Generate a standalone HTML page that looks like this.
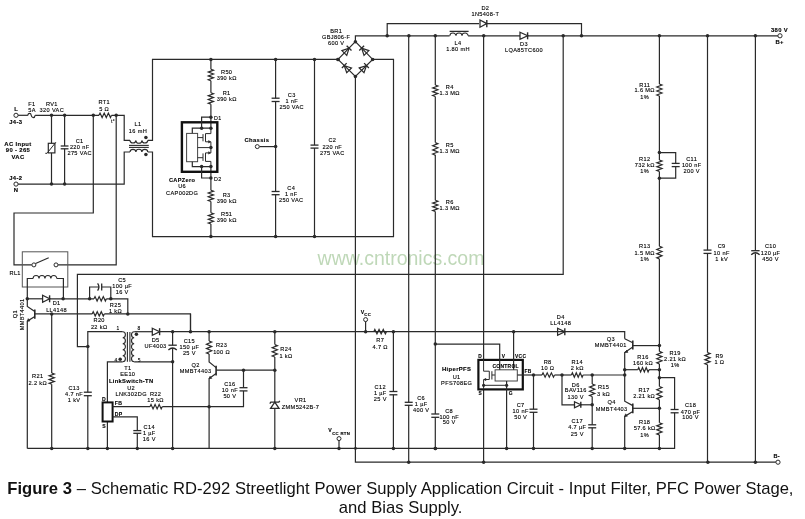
<!DOCTYPE html>
<html><head><meta charset="utf-8"><style>
html,body{margin:0;padding:0;background:#fff;width:805px;height:519px;overflow:hidden}
svg{display:block}
text{font-family:"Liberation Sans",sans-serif;fill:#000;stroke:#000;stroke-width:0.12px}
svg{will-change:transform}
</style></head><body>
<svg width="805" height="519" viewBox="0 0 805 519">
<rect width="805" height="519" fill="#fff"/>
<text x="401" y="265.2" font-size="19.5" text-anchor="middle" style="fill:#bfd8b8;stroke:none">www.cntronics.com</text>
<circle cx="16" cy="115.3" r="2.1" fill="#fff" stroke="#2a2a2a" stroke-width="1"/>
<circle cx="16" cy="184.1" r="2.1" fill="#fff" stroke="#2a2a2a" stroke-width="1"/>
<polyline points="18.1,115.3 27.9,115.3" fill="none" stroke="#2a2a2a" stroke-width="1.2"/>
<path d="M27.8,115.3 C28.2,112.7 30.9,112.7 31.2,115.3 C31.6,118.3 34.7,118.3 35.1,115.3" fill="none" stroke="#2a2a2a" stroke-width="1.2"/>
<polyline points="35.1,115.3 99,115.3" fill="none" stroke="#2a2a2a" stroke-width="1.2"/>
<polyline points="99,115.3 100.04,113.1 102.12,117.5 104.21,113.1 106.29,117.5 108.38,113.1 110.46,117.5 111.5,115.3" fill="none" stroke="#2a2a2a" stroke-width="1.2"/>
<polyline points="111.5,115.3 124.2,115.3 124.2,140.4 130,140.4" fill="none" stroke="#2a2a2a" stroke-width="1.2"/>
<path d="M130,140.4 A2.97,2.8 0 0 0 135.93,140.4 A2.97,2.8 0 0 0 141.87,140.4 A2.97,2.8 0 0 0 147.8,140.4" fill="none" stroke="#2a2a2a" stroke-width="1.1"/>
<polyline points="147.8,140.4 152.5,140.4 152.5,59.4 337.6,59.4" fill="none" stroke="#2a2a2a" stroke-width="1.2"/>
<polyline points="129,145.4 148.8,145.4" fill="none" stroke="#2a2a2a" stroke-width="1.1"/>
<polyline points="129,147.4 148.8,147.4" fill="none" stroke="#2a2a2a" stroke-width="1.1"/>
<polyline points="18.1,184.1 124.2,184.1 124.2,152 130,152" fill="none" stroke="#2a2a2a" stroke-width="1.2"/>
<path d="M130,152 A2.97,2.8 0 0 1 135.93,152 A2.97,2.8 0 0 1 141.87,152 A2.97,2.8 0 0 1 147.8,152" fill="none" stroke="#2a2a2a" stroke-width="1.1"/>
<polyline points="147.8,152 152.5,152 152.5,236.6 393.5,236.6 393.5,59.4 372.7,59.4" fill="none" stroke="#2a2a2a" stroke-width="1.2"/>
<circle cx="145.9" cy="137.6" r="1.75" fill="#2a2a2a"/>
<circle cx="145.9" cy="154.5" r="1.75" fill="#2a2a2a"/>
<circle cx="51.5" cy="115.3" r="1.75" fill="#2a2a2a"/>
<circle cx="51.5" cy="184.1" r="1.75" fill="#2a2a2a"/>
<circle cx="64.6" cy="115.3" r="1.75" fill="#2a2a2a"/>
<circle cx="64.6" cy="184.1" r="1.75" fill="#2a2a2a"/>
<circle cx="93.3" cy="115.3" r="1.75" fill="#2a2a2a"/>
<circle cx="116.2" cy="115.3" r="1.75" fill="#2a2a2a"/>
<polyline points="51.5,115.3 51.5,184.1" fill="none" stroke="#2a2a2a" stroke-width="1.2"/>
<rect x="48.3" y="143.3" width="6.6" height="9.6" fill="#fff" stroke="#2a2a2a" stroke-width="1.2"/>
<polyline points="45.3,153.3 47,153.3 55.9,142.2" fill="none" stroke="#2a2a2a" stroke-width="1.0"/>
<polyline points="64.6,115.3 64.6,146" fill="none" stroke="#2a2a2a" stroke-width="1.2"/>
<polyline points="64.6,148.8 64.6,184.1" fill="none" stroke="#2a2a2a" stroke-width="1.2"/>
<polyline points="60.7,146 68.5,146" fill="none" stroke="#2a2a2a" stroke-width="1.3"/>
<polyline points="60.7,148.8 68.5,148.8" fill="none" stroke="#2a2a2a" stroke-width="1.3"/>
<text x="112.95" y="122.99" font-size="4.9" letter-spacing="0.3" text-anchor="middle">t°</text>
<polyline points="93.3,115.3 93.3,213 14,213 14,264.9 31.8,264.9" fill="none" stroke="#2a2a2a" stroke-width="1.2"/>
<polyline points="116.2,115.3 116.2,264.9 58.1,264.9" fill="none" stroke="#2a2a2a" stroke-width="1.2"/>
<circle cx="33.9" cy="264.9" r="2.0" fill="#fff" stroke="#2a2a2a" stroke-width="1"/>
<circle cx="56" cy="264.9" r="2.0" fill="#fff" stroke="#2a2a2a" stroke-width="1"/>
<polyline points="35.6,263.6 48.7,257.8" fill="none" stroke="#2a2a2a" stroke-width="1.1"/>
<rect x="22.3" y="251.8" width="45.5" height="35.2" fill="none" stroke="#555" stroke-width="1.0"/>
<path d="M33.1,278.5 A2.96,3 0 0 1 39.02,278.5 A2.96,3 0 0 1 44.95,278.5 A2.96,3 0 0 1 50.88,278.5 A2.96,3 0 0 1 56.8,278.5" fill="none" stroke="#2a2a2a" stroke-width="1.1"/>
<polyline points="27.3,298.8 27.3,278.5 33.1,278.5" fill="none" stroke="#2a2a2a" stroke-width="1.2"/>
<polyline points="56.8,278.5 63.4,278.5 63.4,298.8" fill="none" stroke="#2a2a2a" stroke-width="1.2"/>
<text x="31.97" y="105.75" font-size="5.61" letter-spacing="0.35" text-anchor="middle">F1</text>
<text x="31.97" y="111.65" font-size="5.61" letter-spacing="0.35" text-anchor="middle">5A</text>
<text x="51.87" y="105.65" font-size="5.61" letter-spacing="0.35" text-anchor="middle">RV1</text>
<text x="51.87" y="111.65" font-size="5.61" letter-spacing="0.35" text-anchor="middle">320 VAC</text>
<text x="104.17" y="104.25" font-size="5.61" letter-spacing="0.35" text-anchor="middle">RT1</text>
<text x="104.17" y="110.85" font-size="5.61" letter-spacing="0.35" text-anchor="middle">5 Ω</text>
<text x="79.67" y="143.25" font-size="5.61" letter-spacing="0.35" text-anchor="middle">C1</text>
<text x="79.67" y="149.25" font-size="5.61" letter-spacing="0.35" text-anchor="middle">220 nF</text>
<text x="79.67" y="155.25" font-size="5.61" letter-spacing="0.35" text-anchor="middle">275 VAC</text>
<text x="137.97" y="126.05" font-size="5.61" letter-spacing="0.35" text-anchor="middle">L1</text>
<text x="137.97" y="133.35" font-size="5.61" letter-spacing="0.35" text-anchor="middle">16 mH</text>
<text x="16.17" y="111.45" font-size="5.89" letter-spacing="0.35" font-weight="bold" text-anchor="middle">L</text>
<text x="15.77" y="123.95" font-size="5.89" letter-spacing="0.35" font-weight="bold" text-anchor="middle">J4-3</text>
<text x="15.77" y="179.95" font-size="5.89" letter-spacing="0.35" font-weight="bold" text-anchor="middle">J4-2</text>
<text x="16.17" y="192.15" font-size="5.89" letter-spacing="0.35" font-weight="bold" text-anchor="middle">N</text>
<text x="17.97" y="145.55" font-size="5.89" letter-spacing="0.35" font-weight="bold" text-anchor="middle">AC Input</text>
<text x="17.97" y="152.45" font-size="5.89" letter-spacing="0.35" font-weight="bold" text-anchor="middle">90 - 265</text>
<text x="17.97" y="159.05" font-size="5.89" letter-spacing="0.35" font-weight="bold" text-anchor="middle">VAC</text>
<text x="15.17" y="274.85" font-size="5.61" letter-spacing="0.35" text-anchor="middle">RL1</text>
<circle cx="210.9" cy="59.4" r="1.75" fill="#2a2a2a"/>
<circle cx="210.9" cy="236.6" r="1.75" fill="#2a2a2a"/>
<circle cx="275.6" cy="59.4" r="1.75" fill="#2a2a2a"/>
<circle cx="275.6" cy="236.6" r="1.75" fill="#2a2a2a"/>
<circle cx="314.5" cy="59.4" r="1.75" fill="#2a2a2a"/>
<circle cx="314.5" cy="236.6" r="1.75" fill="#2a2a2a"/>
<circle cx="338" cy="59.4" r="1.75" fill="#2a2a2a"/>
<polyline points="210.9,59.4 210.9,69.2" fill="none" stroke="#2a2a2a" stroke-width="1.2"/>
<polyline points="210.9,69.2 213.5,70.16 208.3,72.08 213.5,73.99 208.3,75.91 213.5,77.83 208.3,79.74 210.9,80.7" fill="none" stroke="#2a2a2a" stroke-width="1.2"/>
<polyline points="210.9,80.7 210.9,92.8" fill="none" stroke="#2a2a2a" stroke-width="1.2"/>
<polyline points="210.9,92.8 213.5,93.76 208.3,95.67 213.5,97.59 208.3,99.51 213.5,101.42 208.3,103.34 210.9,104.3" fill="none" stroke="#2a2a2a" stroke-width="1.2"/>
<polyline points="210.9,104.3 210.9,128.2" fill="none" stroke="#2a2a2a" stroke-width="1.2"/>
<polyline points="210.9,166.6 210.9,190.2" fill="none" stroke="#2a2a2a" stroke-width="1.2"/>
<polyline points="210.9,190.2 213.5,191.14 208.3,193.02 213.5,194.91 208.3,196.79 213.5,198.68 208.3,200.56 210.9,201.5" fill="none" stroke="#2a2a2a" stroke-width="1.2"/>
<polyline points="210.9,201.5 210.9,212.8" fill="none" stroke="#2a2a2a" stroke-width="1.2"/>
<polyline points="210.9,212.8 213.5,213.73 208.3,215.6 213.5,217.47 208.3,219.33 213.5,221.2 208.3,223.07 210.9,224" fill="none" stroke="#2a2a2a" stroke-width="1.2"/>
<polyline points="210.9,224 210.9,236.6" fill="none" stroke="#2a2a2a" stroke-width="1.2"/>
<rect x="181.9" y="122.3" width="35.4" height="49.5" fill="none" stroke="#111" stroke-width="2.4"/>
<polyline points="210.9,117.2 201.6,117.2 201.6,128.2" fill="none" stroke="#2a2a2a" stroke-width="1.2"/>
<polyline points="192.3,133.4 192.3,128.2 210.9,128.2" fill="none" stroke="#2a2a2a" stroke-width="1.2"/>
<circle cx="210.9" cy="117.2" r="1.75" fill="#2a2a2a"/>
<circle cx="201.6" cy="128.2" r="1.75" fill="#2a2a2a"/>
<circle cx="210.9" cy="128.2" r="1.75" fill="#2a2a2a"/>
<rect x="186.6" y="133.4" width="11" height="28.3" fill="none" stroke="#444" stroke-width="1.0"/>
<polyline points="192.3,161.7 192.3,166.6 210.9,166.6" fill="none" stroke="#2a2a2a" stroke-width="1.2"/>
<polyline points="201.6,166.6 201.6,178 210.9,178" fill="none" stroke="#2a2a2a" stroke-width="1.2"/>
<circle cx="201.6" cy="166.6" r="1.75" fill="#2a2a2a"/>
<circle cx="210.9" cy="166.6" r="1.75" fill="#2a2a2a"/>
<circle cx="210.9" cy="178" r="1.75" fill="#2a2a2a"/>
<polyline points="197.6,137.6 203,137.6" fill="none" stroke="#2a2a2a" stroke-width="1.0"/>
<polyline points="203,134.1 203,141.3" fill="none" stroke="#2a2a2a" stroke-width="1.0"/>
<polyline points="205.5,133.6 205.5,141.8" fill="none" stroke="#2a2a2a" stroke-width="1.0"/>
<polyline points="205.5,133.6 210.9,133.6" fill="none" stroke="#2a2a2a" stroke-width="1.0"/>
<polyline points="205.5,141.8 210.9,141.8" fill="none" stroke="#2a2a2a" stroke-width="1.0"/>
<polyline points="197.6,157.7 203,157.7" fill="none" stroke="#2a2a2a" stroke-width="1.0"/>
<polyline points="203,153.4 203,160.9" fill="none" stroke="#2a2a2a" stroke-width="1.0"/>
<polyline points="205.5,152.9 205.5,161.4" fill="none" stroke="#2a2a2a" stroke-width="1.0"/>
<polyline points="205.5,152.9 210.9,152.9" fill="none" stroke="#2a2a2a" stroke-width="1.0"/>
<polyline points="205.5,161.4 210.9,161.4" fill="none" stroke="#2a2a2a" stroke-width="1.0"/>
<polyline points="210.9,128.2 210.9,133.6" fill="none" stroke="#2a2a2a" stroke-width="1.0"/>
<polyline points="210.9,141.8 210.9,152.9" fill="none" stroke="#2a2a2a" stroke-width="1.0"/>
<polyline points="210.9,161.4 210.9,166.6" fill="none" stroke="#2a2a2a" stroke-width="1.0"/>
<polyline points="197.6,147.6 210.9,147.6" fill="none" stroke="#2a2a2a" stroke-width="1.0"/>
<circle cx="210.9" cy="147.6" r="1.75" fill="#2a2a2a"/>
<path d="M208.6,140.6 L210.4,141.8 L208.6,143.0 Z" fill="#2a2a2a" stroke="#2a2a2a" stroke-width="0.6"/>
<path d="M208.6,151.7 L210.4,152.9 L208.6,154.1 Z" fill="#2a2a2a" stroke="#2a2a2a" stroke-width="0.6"/>
<text x="214" y="120.15" font-size="5.34" letter-spacing="0.33" text-anchor="start">D1</text>
<text x="214" y="180.55" font-size="5.34" letter-spacing="0.33" text-anchor="start">D2</text>
<text font-weight="bold" x="182.17" y="181.65" font-size="5.61" letter-spacing="0.35" text-anchor="middle">CAPZero</text>
<text x="182.17" y="188.45" font-size="5.61" letter-spacing="0.35" text-anchor="middle">U6</text>
<text x="182.17" y="194.55" font-size="5.61" letter-spacing="0.35" text-anchor="middle">CAP002DG</text>
<text x="226.67" y="73.75" font-size="5.61" letter-spacing="0.35" text-anchor="middle">R50</text>
<text x="226.67" y="80.25" font-size="5.61" letter-spacing="0.35" text-anchor="middle">390 kΩ</text>
<text x="226.67" y="94.75" font-size="5.61" letter-spacing="0.35" text-anchor="middle">R1</text>
<text x="226.67" y="101.05" font-size="5.61" letter-spacing="0.35" text-anchor="middle">390 kΩ</text>
<text x="226.67" y="196.75" font-size="5.61" letter-spacing="0.35" text-anchor="middle">R3</text>
<text x="226.67" y="202.95" font-size="5.61" letter-spacing="0.35" text-anchor="middle">390 kΩ</text>
<text x="226.67" y="216.05" font-size="5.61" letter-spacing="0.35" text-anchor="middle">R51</text>
<text x="226.67" y="222.35" font-size="5.61" letter-spacing="0.35" text-anchor="middle">390 kΩ</text>
<polyline points="275.6,59.4 275.6,98.2" fill="none" stroke="#2a2a2a" stroke-width="1.2"/>
<polyline points="271.6,98.2 279.6,98.2" fill="none" stroke="#2a2a2a" stroke-width="1.3"/>
<polyline points="271.6,101.5 279.6,101.5" fill="none" stroke="#2a2a2a" stroke-width="1.3"/>
<polyline points="275.6,101.5 275.6,191.5" fill="none" stroke="#2a2a2a" stroke-width="1.2"/>
<polyline points="271.6,191.5 279.6,191.5" fill="none" stroke="#2a2a2a" stroke-width="1.3"/>
<polyline points="271.6,194.7 279.6,194.7" fill="none" stroke="#2a2a2a" stroke-width="1.3"/>
<polyline points="275.6,194.7 275.6,236.6" fill="none" stroke="#2a2a2a" stroke-width="1.2"/>
<circle cx="275.6" cy="146.6" r="1.75" fill="#2a2a2a"/>
<polyline points="259.4,146.6 275.6,146.6" fill="none" stroke="#2a2a2a" stroke-width="1.2"/>
<circle cx="257.3" cy="146.6" r="2.0" fill="#fff" stroke="#2a2a2a" stroke-width="1"/>
<text x="256.97" y="142.35" font-size="5.89" letter-spacing="0.35" font-weight="bold" text-anchor="middle">Chassis</text>
<text x="291.77" y="96.55" font-size="5.61" letter-spacing="0.35" text-anchor="middle">C3</text>
<text x="291.77" y="102.65" font-size="5.61" letter-spacing="0.35" text-anchor="middle">1 nF</text>
<text x="291.77" y="108.65" font-size="5.61" letter-spacing="0.35" text-anchor="middle">250 VAC</text>
<text x="291.27" y="189.75" font-size="5.61" letter-spacing="0.35" text-anchor="middle">C4</text>
<text x="291.27" y="196.05" font-size="5.61" letter-spacing="0.35" text-anchor="middle">1 nF</text>
<text x="291.27" y="202.35" font-size="5.61" letter-spacing="0.35" text-anchor="middle">250 VAC</text>
<polyline points="314.5,59.4 314.5,145.1" fill="none" stroke="#2a2a2a" stroke-width="1.2"/>
<polyline points="310.5,145.1 318.5,145.1" fill="none" stroke="#2a2a2a" stroke-width="1.3"/>
<polyline points="310.5,148.1 318.5,148.1" fill="none" stroke="#2a2a2a" stroke-width="1.3"/>
<polyline points="314.5,148.1 314.5,236.6" fill="none" stroke="#2a2a2a" stroke-width="1.2"/>
<text x="332.37" y="142.15" font-size="5.61" letter-spacing="0.35" text-anchor="middle">C2</text>
<text x="332.37" y="148.95" font-size="5.61" letter-spacing="0.35" text-anchor="middle">220 nF</text>
<text x="332.37" y="155.15" font-size="5.61" letter-spacing="0.35" text-anchor="middle">275 VAC</text>
<polyline points="338,59.4 355.4,41.7 372.7,59.4 355.4,76.5 338,59.4" fill="none" stroke="#2a2a2a" stroke-width="1.2"/>
<circle cx="338" cy="59.4" r="1.75" fill="#2a2a2a"/>
<circle cx="355.4" cy="41.7" r="1.75" fill="#2a2a2a"/>
<circle cx="372.7" cy="59.4" r="1.75" fill="#2a2a2a"/>
<circle cx="355.4" cy="76.5" r="1.75" fill="#2a2a2a"/>
<g transform="translate(346.7,50.55) rotate(-45.6)"><path d="M-3.4,-3.4 L3.4,0 L-3.4,3.4 Z" fill="none" stroke="#2a2a2a" stroke-width="1.2"/><line x1="3.4" y1="-3.4" x2="3.4" y2="3.4" stroke="#2a2a2a" stroke-width="1.3"/></g>
<g transform="translate(364.05,50.55) rotate(-134.4)"><path d="M-3.4,-3.4 L3.4,0 L-3.4,3.4 Z" fill="none" stroke="#2a2a2a" stroke-width="1.2"/><line x1="3.4" y1="-3.4" x2="3.4" y2="3.4" stroke="#2a2a2a" stroke-width="1.3"/></g>
<g transform="translate(346.7,67.95) rotate(-135.6)"><path d="M-3.4,-3.4 L3.4,0 L-3.4,3.4 Z" fill="none" stroke="#2a2a2a" stroke-width="1.2"/><line x1="3.4" y1="-3.4" x2="3.4" y2="3.4" stroke="#2a2a2a" stroke-width="1.3"/></g>
<g transform="translate(364.05,67.95) rotate(-44.4)"><path d="M-3.4,-3.4 L3.4,0 L-3.4,3.4 Z" fill="none" stroke="#2a2a2a" stroke-width="1.2"/><line x1="3.4" y1="-3.4" x2="3.4" y2="3.4" stroke="#2a2a2a" stroke-width="1.3"/></g>
<text x="336.17" y="33.15" font-size="5.61" letter-spacing="0.35" text-anchor="middle">BR1</text>
<text x="336.17" y="39.15" font-size="5.61" letter-spacing="0.35" text-anchor="middle">GBJ806-F</text>
<text x="336.17" y="45.15" font-size="5.61" letter-spacing="0.35" text-anchor="middle">600 V</text>
<polyline points="355.4,41.7 355.4,35.8 449.6,35.8" fill="none" stroke="#2a2a2a" stroke-width="1.2"/>
<path d="M449.9,35.8 A3.03,2.8 0 0 1 455.97,35.8 A3.03,2.8 0 0 1 462.03,35.8 A3.03,2.8 0 0 1 468.1,35.8" fill="none" stroke="#2a2a2a" stroke-width="1.1"/>
<polyline points="449.6,31.4 468.6,31.4" fill="none" stroke="#2a2a2a" stroke-width="1.3"/>
<polyline points="468.1,35.8 520,35.8" fill="none" stroke="#2a2a2a" stroke-width="1.2"/>
<path d="M520,32.3 L527.6,35.8 L520,39.3 Z" fill="none" stroke="#2a2a2a" stroke-width="1.25"/>
<polyline points="527.6,32.3 527.6,39.3" fill="none" stroke="#2a2a2a" stroke-width="1.4"/>
<polyline points="527.6,35.8 778,35.8" fill="none" stroke="#2a2a2a" stroke-width="1.2"/>
<circle cx="780" cy="35.8" r="2.1" fill="#fff" stroke="#2a2a2a" stroke-width="1"/>
<text x="779.57" y="31.85" font-size="5.89" letter-spacing="0.35" font-weight="bold" text-anchor="middle">380 V</text>
<text x="779.57" y="43.75" font-size="5.89" letter-spacing="0.35" font-weight="bold" text-anchor="middle">B+</text>
<circle cx="387.2" cy="35.8" r="1.75" fill="#2a2a2a"/>
<circle cx="408.9" cy="35.8" r="1.75" fill="#2a2a2a"/>
<circle cx="435.3" cy="35.8" r="1.75" fill="#2a2a2a"/>
<circle cx="483.7" cy="35.8" r="1.75" fill="#2a2a2a"/>
<circle cx="563.2" cy="35.8" r="1.75" fill="#2a2a2a"/>
<circle cx="581.5" cy="35.8" r="1.75" fill="#2a2a2a"/>
<circle cx="659.4" cy="35.8" r="1.75" fill="#2a2a2a"/>
<circle cx="707.5" cy="35.8" r="1.75" fill="#2a2a2a"/>
<circle cx="755.4" cy="35.8" r="1.75" fill="#2a2a2a"/>
<polyline points="387.2,35.8 387.2,23.6 479,23.6" fill="none" stroke="#2a2a2a" stroke-width="1.2"/>
<path d="M480,20 L486.8,23.6 L480,27.2 Z" fill="none" stroke="#2a2a2a" stroke-width="1.25"/>
<polyline points="486.8,20 486.8,27.2" fill="none" stroke="#2a2a2a" stroke-width="1.4"/>
<polyline points="486.8,23.6 581.5,23.6 581.5,35.8" fill="none" stroke="#2a2a2a" stroke-width="1.2"/>
<text x="485.37" y="10.35" font-size="5.61" letter-spacing="0.35" text-anchor="middle">D2</text>
<text x="485.37" y="16.45" font-size="5.61" letter-spacing="0.35" text-anchor="middle">1N5408-T</text>
<text x="458.07" y="45.45" font-size="5.61" letter-spacing="0.35" text-anchor="middle">L4</text>
<text x="458.07" y="51.45" font-size="5.61" letter-spacing="0.35" text-anchor="middle">1.80 mH</text>
<text x="523.97" y="45.85" font-size="5.61" letter-spacing="0.35" text-anchor="middle">D3</text>
<text x="523.97" y="52.05" font-size="5.61" letter-spacing="0.35" text-anchor="middle">LQA85TC600</text>
<polyline points="355.4,76.5 355.4,462.2 776,462.2" fill="none" stroke="#2a2a2a" stroke-width="1.2"/>
<circle cx="778" cy="462.2" r="2.1" fill="#fff" stroke="#2a2a2a" stroke-width="1"/>
<text x="776.76" y="458.05" font-size="5.61" letter-spacing="0.33" font-weight="bold" text-anchor="middle">B-</text>
<circle cx="355.5" cy="448.4" r="1.4" fill="#2a2a2a"/>
<circle cx="408.7" cy="462.2" r="1.75" fill="#2a2a2a"/>
<circle cx="483.6" cy="462.2" r="1.75" fill="#2a2a2a"/>
<circle cx="707.9" cy="462.2" r="1.75" fill="#2a2a2a"/>
<circle cx="755.4" cy="462.2" r="1.75" fill="#2a2a2a"/>
<polyline points="435.3,35.8 435.3,85" fill="none" stroke="#2a2a2a" stroke-width="1.2"/>
<polyline points="435.3,85 437.9,85.96 432.7,87.88 437.9,89.79 432.7,91.71 437.9,93.62 432.7,95.54 435.3,96.5" fill="none" stroke="#2a2a2a" stroke-width="1.2"/>
<polyline points="435.3,96.5 435.3,142.6" fill="none" stroke="#2a2a2a" stroke-width="1.2"/>
<polyline points="435.3,142.6 437.9,143.64 432.7,145.72 437.9,147.81 432.7,149.89 437.9,151.97 432.7,154.06 435.3,155.1" fill="none" stroke="#2a2a2a" stroke-width="1.2"/>
<polyline points="435.3,155.1 435.3,200.3" fill="none" stroke="#2a2a2a" stroke-width="1.2"/>
<polyline points="435.3,200.3 437.9,201.23 432.7,203.1 437.9,204.97 432.7,206.83 437.9,208.7 432.7,210.57 435.3,211.5" fill="none" stroke="#2a2a2a" stroke-width="1.2"/>
<polyline points="435.3,211.5 435.3,414" fill="none" stroke="#2a2a2a" stroke-width="1.2"/>
<polyline points="431.3,414 439.3,414" fill="none" stroke="#2a2a2a" stroke-width="1.3"/>
<polyline points="431.3,417.3 439.3,417.3" fill="none" stroke="#2a2a2a" stroke-width="1.3"/>
<polyline points="435.3,417.3 435.3,448.4" fill="none" stroke="#2a2a2a" stroke-width="1.2"/>
<text x="449.77" y="89.25" font-size="5.61" letter-spacing="0.35" text-anchor="middle">R4</text>
<text x="449.77" y="95.35" font-size="5.61" letter-spacing="0.35" text-anchor="middle">1.3 MΩ</text>
<text x="449.77" y="147.15" font-size="5.61" letter-spacing="0.35" text-anchor="middle">R5</text>
<text x="449.77" y="153.45" font-size="5.61" letter-spacing="0.35" text-anchor="middle">1.3 MΩ</text>
<text x="449.77" y="204.05" font-size="5.61" letter-spacing="0.35" text-anchor="middle">R6</text>
<text x="449.77" y="210.35" font-size="5.61" letter-spacing="0.35" text-anchor="middle">1.3 MΩ</text>
<text x="449.17" y="412.85" font-size="5.61" letter-spacing="0.35" text-anchor="middle">C8</text>
<text x="449.17" y="418.65" font-size="5.61" letter-spacing="0.35" text-anchor="middle">100 nF</text>
<text x="449.17" y="424.45" font-size="5.61" letter-spacing="0.35" text-anchor="middle">50 V</text>
<circle cx="435.3" cy="448.4" r="1.75" fill="#2a2a2a"/>
<circle cx="435.3" cy="344.1" r="1.75" fill="#2a2a2a"/>
<polyline points="408.7,35.8 408.7,402.3" fill="none" stroke="#2a2a2a" stroke-width="1.2"/>
<polyline points="404.7,402.3 412.7,402.3" fill="none" stroke="#2a2a2a" stroke-width="1.3"/>
<polyline points="404.7,405.3 412.7,405.3" fill="none" stroke="#2a2a2a" stroke-width="1.3"/>
<polyline points="408.7,405.3 408.7,462.2" fill="none" stroke="#2a2a2a" stroke-width="1.2"/>
<text x="421.17" y="399.85" font-size="5.61" letter-spacing="0.35" text-anchor="middle">C6</text>
<text x="421.17" y="405.65" font-size="5.61" letter-spacing="0.35" text-anchor="middle">1 µF</text>
<text x="421.17" y="411.85" font-size="5.61" letter-spacing="0.35" text-anchor="middle">400 V</text>
<polyline points="483.6,35.8 483.6,359.9" fill="none" stroke="#2a2a2a" stroke-width="1.2"/>
<polyline points="483.6,389.4 483.6,462.2" fill="none" stroke="#2a2a2a" stroke-width="1.2"/>
<polyline points="563.2,35.8 563.2,274.3 77.4,274.3 77.4,346.6 87.8,346.6" fill="none" stroke="#2a2a2a" stroke-width="1.2"/>
<circle cx="87.8" cy="346.6" r="1.75" fill="#2a2a2a"/>
<polyline points="659.4,35.8 659.4,84" fill="none" stroke="#2a2a2a" stroke-width="1.2"/>
<polyline points="659.4,84 662,85 656.8,87 662,89 656.8,91 662,93 656.8,95 659.4,96" fill="none" stroke="#2a2a2a" stroke-width="1.2"/>
<polyline points="659.4,96 659.4,160" fill="none" stroke="#2a2a2a" stroke-width="1.2"/>
<polyline points="659.4,160 662,160.95 656.8,162.85 662,164.75 656.8,166.65 662,168.55 656.8,170.45 659.4,171.4" fill="none" stroke="#2a2a2a" stroke-width="1.2"/>
<polyline points="659.4,171.4 659.4,246.3" fill="none" stroke="#2a2a2a" stroke-width="1.2"/>
<polyline points="659.4,246.3 662,247.35 656.8,249.45 662,251.55 656.8,253.65 662,255.75 656.8,257.85 659.4,258.9" fill="none" stroke="#2a2a2a" stroke-width="1.2"/>
<polyline points="659.4,258.9 659.4,351.4" fill="none" stroke="#2a2a2a" stroke-width="1.2"/>
<polyline points="659.4,351.4 662,352.44 656.8,354.52 662,356.61 656.8,358.69 662,360.77 656.8,362.86 659.4,363.9" fill="none" stroke="#2a2a2a" stroke-width="1.2"/>
<polyline points="659.4,363.9 659.4,386.5" fill="none" stroke="#2a2a2a" stroke-width="1.2"/>
<polyline points="659.4,386.5 662,387.6 656.8,389.8 662,392 656.8,394.2 662,396.4 656.8,398.6 659.4,399.7" fill="none" stroke="#2a2a2a" stroke-width="1.2"/>
<polyline points="659.4,399.7 659.4,422.8" fill="none" stroke="#2a2a2a" stroke-width="1.2"/>
<polyline points="659.4,422.8 662,423.81 656.8,425.82 662,427.84 656.8,429.86 662,431.88 656.8,433.89 659.4,434.9" fill="none" stroke="#2a2a2a" stroke-width="1.2"/>
<polyline points="659.4,434.9 659.4,448.4" fill="none" stroke="#2a2a2a" stroke-width="1.2"/>
<circle cx="659.4" cy="152.6" r="1.75" fill="#2a2a2a"/>
<circle cx="659.4" cy="178.2" r="1.75" fill="#2a2a2a"/>
<polyline points="659.4,152.6 675.7,152.6 675.7,163.4" fill="none" stroke="#2a2a2a" stroke-width="1.2"/>
<polyline points="671.7,163.4 679.7,163.4" fill="none" stroke="#2a2a2a" stroke-width="1.3"/>
<polyline points="671.7,166.6 679.7,166.6" fill="none" stroke="#2a2a2a" stroke-width="1.3"/>
<polyline points="675.7,166.6 675.7,178.2 659.4,178.2" fill="none" stroke="#2a2a2a" stroke-width="1.2"/>
<text x="644.77" y="86.55" font-size="5.61" letter-spacing="0.35" text-anchor="middle">R11</text>
<text x="644.77" y="92.35" font-size="5.61" letter-spacing="0.35" text-anchor="middle">1.6 MΩ</text>
<text x="644.77" y="98.55" font-size="5.61" letter-spacing="0.35" text-anchor="middle">1%</text>
<text x="644.77" y="160.95" font-size="5.61" letter-spacing="0.35" text-anchor="middle">R12</text>
<text x="644.77" y="167.15" font-size="5.61" letter-spacing="0.35" text-anchor="middle">732 kΩ</text>
<text x="644.77" y="173.45" font-size="5.61" letter-spacing="0.35" text-anchor="middle">1%</text>
<text x="691.67" y="160.95" font-size="5.61" letter-spacing="0.35" text-anchor="middle">C11</text>
<text x="691.67" y="167.15" font-size="5.61" letter-spacing="0.35" text-anchor="middle">100 nF</text>
<text x="691.67" y="173.45" font-size="5.61" letter-spacing="0.35" text-anchor="middle">200 V</text>
<text x="644.77" y="248.35" font-size="5.61" letter-spacing="0.35" text-anchor="middle">R13</text>
<text x="644.77" y="254.65" font-size="5.61" letter-spacing="0.35" text-anchor="middle">1.5 MΩ</text>
<text x="644.77" y="261.25" font-size="5.61" letter-spacing="0.35" text-anchor="middle">1%</text>
<polyline points="707.5,35.8 707.5,250.1" fill="none" stroke="#2a2a2a" stroke-width="1.2"/>
<polyline points="703.5,250.1 711.5,250.1" fill="none" stroke="#2a2a2a" stroke-width="1.3"/>
<polyline points="703.5,253.4 711.5,253.4" fill="none" stroke="#2a2a2a" stroke-width="1.3"/>
<polyline points="707.5,253.4 707.5,352.6" fill="none" stroke="#2a2a2a" stroke-width="1.2"/>
<polyline points="707.5,352.6 710.1,353.61 704.9,355.62 710.1,357.64 704.9,359.66 710.1,361.68 704.9,363.69 707.5,364.7" fill="none" stroke="#2a2a2a" stroke-width="1.2"/>
<polyline points="707.5,364.7 707.5,462.2" fill="none" stroke="#2a2a2a" stroke-width="1.2"/>
<text x="721.67" y="248.35" font-size="5.61" letter-spacing="0.35" text-anchor="middle">C9</text>
<text x="721.67" y="254.65" font-size="5.61" letter-spacing="0.35" text-anchor="middle">10 nF</text>
<text x="721.67" y="261.05" font-size="5.61" letter-spacing="0.35" text-anchor="middle">1 kV</text>
<text x="719.37" y="357.65" font-size="5.61" letter-spacing="0.35" text-anchor="middle">R9</text>
<text x="719.37" y="364.05" font-size="5.61" letter-spacing="0.35" text-anchor="middle">1 Ω</text>
<polyline points="755.4,35.8 755.4,250.7" fill="none" stroke="#2a2a2a" stroke-width="1.2"/>
<polyline points="751.2,250.7 759.6,250.7" fill="none" stroke="#2a2a2a" stroke-width="1.3"/>
<path d="M751.2,254.7 Q755.4,250.9 759.6,254.7" fill="none" stroke="#2a2a2a" stroke-width="1.3"/>
<polyline points="755.4,253.6 755.4,462.2" fill="none" stroke="#2a2a2a" stroke-width="1.2"/>
<text x="770.57" y="248.35" font-size="5.61" letter-spacing="0.35" text-anchor="middle">C10</text>
<text x="770.57" y="254.65" font-size="5.61" letter-spacing="0.35" text-anchor="middle">120 µF</text>
<text x="770.57" y="261.05" font-size="5.61" letter-spacing="0.35" text-anchor="middle">450 V</text>
<polyline points="27.3,298.8 42.6,298.8" fill="none" stroke="#2a2a2a" stroke-width="1.2"/>
<path d="M42.6,295.3 L49.6,298.8 L42.6,302.3 Z" fill="none" stroke="#2a2a2a" stroke-width="1.25"/>
<polyline points="49.6,295.3 49.6,302.3" fill="none" stroke="#2a2a2a" stroke-width="1.4"/>
<polyline points="49.6,298.8 94,298.8" fill="none" stroke="#2a2a2a" stroke-width="1.2"/>
<polyline points="94,298.8 95.03,296.6 97.1,301 99.17,296.6 101.23,301 103.3,296.6 105.37,301 106.4,298.8" fill="none" stroke="#2a2a2a" stroke-width="1.2"/>
<polyline points="106.4,298.8 127.8,298.8 127.8,313.9" fill="none" stroke="#2a2a2a" stroke-width="1.2"/>
<circle cx="27.3" cy="298.8" r="1.75" fill="#2a2a2a"/>
<circle cx="63.1" cy="298.8" r="1.75" fill="#2a2a2a"/>
<circle cx="89.6" cy="298.8" r="1.75" fill="#2a2a2a"/>
<circle cx="110.8" cy="298.8" r="1.75" fill="#2a2a2a"/>
<polyline points="89.6,298.8 89.6,287 99.2,287" fill="none" stroke="#2a2a2a" stroke-width="1.2"/>
<polyline points="101.7,287 110.8,287 110.8,298.8" fill="none" stroke="#2a2a2a" stroke-width="1.2"/>
<path d="M97.6,283.4 Q100.2,287.0 97.6,290.6" fill="none" stroke="#2a2a2a" stroke-width="1.3"/>
<polyline points="101.7,283.4 101.7,290.6" fill="none" stroke="#2a2a2a" stroke-width="1.3"/>
<text x="122.17" y="281.75" font-size="5.61" letter-spacing="0.35" text-anchor="middle">C5</text>
<text x="122.17" y="288.05" font-size="5.61" letter-spacing="0.35" text-anchor="middle">100 µF</text>
<text x="122.17" y="294.15" font-size="5.61" letter-spacing="0.35" text-anchor="middle">16 V</text>
<text x="56.57" y="305.45" font-size="5.61" letter-spacing="0.35" text-anchor="middle">D1</text>
<text x="56.57" y="311.65" font-size="5.61" letter-spacing="0.35" text-anchor="middle">LL4148</text>
<text x="115.47" y="306.85" font-size="5.61" letter-spacing="0.35" text-anchor="middle">R25</text>
<text x="115.47" y="312.95" font-size="5.61" letter-spacing="0.35" text-anchor="middle">1 kΩ</text>
<polyline points="34.8,309.4 34.8,318.8" fill="none" stroke="#2a2a2a" stroke-width="1.6"/>
<polyline points="34.8,311.6 27.3,306.4 27.3,298.8" fill="none" stroke="#2a2a2a" stroke-width="1.2"/>
<polyline points="34.8,316.4 27.3,321.2 27.3,448.4" fill="none" stroke="#2a2a2a" stroke-width="1.2"/>
<path d="M28.2,318.6 L27.3,321.2 L30.0,321.0 Z" fill="#2a2a2a" stroke="#2a2a2a" stroke-width="0.6"/>
<polyline points="34.8,313.9 92.2,313.9" fill="none" stroke="#2a2a2a" stroke-width="1.2"/>
<polyline points="92.2,313.9 93.21,311.7 95.22,316.1 97.24,311.7 99.26,316.1 101.28,311.7 103.29,316.1 104.3,313.9" fill="none" stroke="#2a2a2a" stroke-width="1.2"/>
<polyline points="104.3,313.9 190.5,313.9 190.5,331.7" fill="none" stroke="#2a2a2a" stroke-width="1.2"/>
<circle cx="51.7" cy="313.9" r="1.75" fill="#2a2a2a"/>
<circle cx="127.8" cy="313.9" r="1.75" fill="#2a2a2a"/>
<text transform="translate(17.2,314.2) rotate(-90)" font-size="5.6" letter-spacing="0.35" text-anchor="middle">Q1</text>
<text transform="translate(24.2,314.5) rotate(-90)" font-size="5.6" letter-spacing="0.35" text-anchor="middle">MMBT4401</text>
<text x="99.17" y="322.45" font-size="5.61" letter-spacing="0.35" text-anchor="middle">R20</text>
<text x="99.17" y="328.75" font-size="5.61" letter-spacing="0.35" text-anchor="middle">22 kΩ</text>
<polyline points="51.7,313.9 51.7,373" fill="none" stroke="#2a2a2a" stroke-width="1.2"/>
<polyline points="51.7,373 54.3,373.94 49.1,375.82 54.3,377.71 49.1,379.59 54.3,381.48 49.1,383.36 51.7,384.3" fill="none" stroke="#2a2a2a" stroke-width="1.2"/>
<polyline points="51.7,384.3 51.7,448.4" fill="none" stroke="#2a2a2a" stroke-width="1.2"/>
<text x="37.77" y="378.45" font-size="5.61" letter-spacing="0.35" text-anchor="middle">R21</text>
<text x="37.77" y="384.85" font-size="5.61" letter-spacing="0.35" text-anchor="middle">2.2 kΩ</text>
<polyline points="87.8,448.4 87.8,395.7" fill="none" stroke="#2a2a2a" stroke-width="1.2"/>
<polyline points="83.8,392.2 91.8,392.2" fill="none" stroke="#2a2a2a" stroke-width="1.3"/>
<polyline points="83.8,395.7 91.8,395.7" fill="none" stroke="#2a2a2a" stroke-width="1.3"/>
<polyline points="87.8,392.2 87.8,331.7 122.7,331.7" fill="none" stroke="#2a2a2a" stroke-width="1.2"/>
<text x="74.07" y="389.75" font-size="5.61" letter-spacing="0.35" text-anchor="middle">C13</text>
<text x="74.07" y="396.05" font-size="5.61" letter-spacing="0.35" text-anchor="middle">4.7 nF</text>
<text x="74.07" y="401.85" font-size="5.61" letter-spacing="0.35" text-anchor="middle">1 kV</text>
<polyline points="27.3,448.4 674.6,448.4 674.6,412.8" fill="none" stroke="#2a2a2a" stroke-width="1.2"/>
<circle cx="51.7" cy="448.4" r="1.75" fill="#2a2a2a"/>
<circle cx="87.8" cy="448.4" r="1.75" fill="#2a2a2a"/>
<circle cx="107.4" cy="448.4" r="1.75" fill="#2a2a2a"/>
<circle cx="137.3" cy="448.4" r="1.75" fill="#2a2a2a"/>
<circle cx="172.6" cy="448.4" r="1.75" fill="#2a2a2a"/>
<circle cx="274.8" cy="448.4" r="1.75" fill="#2a2a2a"/>
<circle cx="339" cy="448.4" r="1.75" fill="#2a2a2a"/>
<circle cx="393.4" cy="448.4" r="1.75" fill="#2a2a2a"/>
<circle cx="435.3" cy="448.4" r="1.75" fill="#2a2a2a"/>
<circle cx="506.6" cy="448.4" r="1.75" fill="#2a2a2a"/>
<circle cx="533.5" cy="448.4" r="1.75" fill="#2a2a2a"/>
<circle cx="592.2" cy="448.4" r="1.75" fill="#2a2a2a"/>
<circle cx="624.7" cy="448.4" r="1.75" fill="#2a2a2a"/>
<circle cx="659.4" cy="448.4" r="1.75" fill="#2a2a2a"/>
<path d="M122.7,331.7 A2.7,3.01 0 0 1 122.7,337.72 A2.7,3.01 0 0 1 122.7,343.74 A2.7,3.01 0 0 1 122.7,349.76 A2.7,3.01 0 0 1 122.7,355.78 A2.7,3.01 0 0 1 122.7,361.8" fill="none" stroke="#2a2a2a" stroke-width="1.1"/>
<path d="M134.2,331.7 A2.7,3.01 0 0 0 134.2,337.72 A2.7,3.01 0 0 0 134.2,343.74 A2.7,3.01 0 0 0 134.2,349.76 A2.7,3.01 0 0 0 134.2,355.78 A2.7,3.01 0 0 0 134.2,361.8" fill="none" stroke="#2a2a2a" stroke-width="1.1"/>
<polyline points="127.4,332 127.4,361.7" fill="none" stroke="#2a2a2a" stroke-width="1.1"/>
<polyline points="129.9,332 129.9,361.7" fill="none" stroke="#2a2a2a" stroke-width="1.1"/>
<circle cx="136.4" cy="334.3" r="1.75" fill="#2a2a2a"/>
<circle cx="120.2" cy="359.3" r="1.75" fill="#2a2a2a"/>
<text x="117.95" y="329.69" font-size="4.9" letter-spacing="0.3" text-anchor="middle">1</text>
<text x="139.05" y="329.69" font-size="4.9" letter-spacing="0.3" text-anchor="middle">8</text>
<text x="115.95" y="361.69" font-size="4.9" letter-spacing="0.3" text-anchor="middle">4</text>
<text x="139.15" y="362.09" font-size="4.9" letter-spacing="0.3" text-anchor="middle">5</text>
<polyline points="134.2,331.7 152.3,331.7" fill="none" stroke="#2a2a2a" stroke-width="1.2"/>
<path d="M152.3,328.2 L159.6,331.7 L152.3,335.2 Z" fill="none" stroke="#2a2a2a" stroke-width="1.25"/>
<polyline points="159.6,328.2 159.6,335.2" fill="none" stroke="#2a2a2a" stroke-width="1.4"/>
<polyline points="159.6,331.7 624.7,331.7 624.7,338.8" fill="none" stroke="#2a2a2a" stroke-width="1.2"/>
<polyline points="134.2,361.8 172.6,361.8" fill="none" stroke="#2a2a2a" stroke-width="1.2"/>
<circle cx="172.6" cy="361.7" r="1.75" fill="#2a2a2a"/>
<circle cx="172.6" cy="331.7" r="1.75" fill="#2a2a2a"/>
<circle cx="190.5" cy="331.7" r="1.75" fill="#2a2a2a"/>
<circle cx="209.1" cy="331.7" r="1.75" fill="#2a2a2a"/>
<circle cx="274.8" cy="331.7" r="1.75" fill="#2a2a2a"/>
<circle cx="365.6" cy="331.7" r="1.75" fill="#2a2a2a"/>
<circle cx="393.4" cy="331.7" r="1.75" fill="#2a2a2a"/>
<circle cx="513.6" cy="331.7" r="1.75" fill="#2a2a2a"/>
<polyline points="122.7,361.8 107.4,361.8 107.4,402.4" fill="none" stroke="#2a2a2a" stroke-width="1.2"/>
<polyline points="107.4,421.5 107.4,448.4" fill="none" stroke="#2a2a2a" stroke-width="1.2"/>
<rect x="102.6" y="402.4" width="10" height="19.1" fill="#fff" stroke="#111" stroke-width="2.0"/>
<polyline points="112.6,406.7 150,406.7" fill="none" stroke="#2a2a2a" stroke-width="1.2"/>
<polyline points="150,406.7 151.02,404.5 153.05,408.9 155.08,404.5 157.12,408.9 159.15,404.5 161.18,408.9 162.2,406.7" fill="none" stroke="#2a2a2a" stroke-width="1.2"/>
<polyline points="162.2,406.7 243.5,406.7 243.5,390.9" fill="none" stroke="#2a2a2a" stroke-width="1.2"/>
<circle cx="209.1" cy="406.7" r="1.75" fill="#2a2a2a"/>
<polyline points="112.6,416.8 137.3,416.8 137.3,430.6" fill="none" stroke="#2a2a2a" stroke-width="1.2"/>
<polyline points="133.3,430.6 141.3,430.6" fill="none" stroke="#2a2a2a" stroke-width="1.3"/>
<polyline points="133.3,433.3 141.3,433.3" fill="none" stroke="#2a2a2a" stroke-width="1.3"/>
<polyline points="137.3,433.3 137.3,448.4" fill="none" stroke="#2a2a2a" stroke-width="1.2"/>
<text x="104.05" y="400.68" font-size="5.14" letter-spacing="0.3" font-weight="bold" text-anchor="middle">D</text>
<text x="104.05" y="428.18" font-size="5.14" letter-spacing="0.3" font-weight="bold" text-anchor="middle">S</text>
<text x="114.8" y="404.88" font-size="5.14" letter-spacing="0.3" font-weight="bold" text-anchor="start">FB</text>
<text x="114.8" y="416.18" font-size="5.14" letter-spacing="0.3" font-weight="bold" text-anchor="start">DP</text>
<text x="149.27" y="428.55" font-size="5.61" letter-spacing="0.35" text-anchor="middle">C14</text>
<text x="149.27" y="434.85" font-size="5.61" letter-spacing="0.35" text-anchor="middle">1 µF</text>
<text x="149.27" y="440.55" font-size="5.61" letter-spacing="0.35" text-anchor="middle">16 V</text>
<text x="155.57" y="341.65" font-size="5.61" letter-spacing="0.35" text-anchor="middle">D5</text>
<text x="155.57" y="348.35" font-size="5.61" letter-spacing="0.35" text-anchor="middle">UF4003</text>
<text x="189.37" y="342.65" font-size="5.61" letter-spacing="0.35" text-anchor="middle">C15</text>
<text x="189.37" y="348.85" font-size="5.61" letter-spacing="0.35" text-anchor="middle">150 µF</text>
<text x="189.37" y="354.85" font-size="5.61" letter-spacing="0.35" text-anchor="middle">25 V</text>
<text x="127.77" y="369.75" font-size="5.61" letter-spacing="0.35" text-anchor="middle">T1</text>
<text x="127.77" y="375.95" font-size="5.61" letter-spacing="0.35" text-anchor="middle">EE10</text>
<text x="131.17" y="383.31" font-size="5.79" letter-spacing="0.34" font-weight="bold" text-anchor="middle">LinkSwitch-TN</text>
<text x="131.17" y="389.75" font-size="5.61" letter-spacing="0.35" text-anchor="middle">U2</text>
<text x="131.17" y="395.85" font-size="5.61" letter-spacing="0.35" text-anchor="middle">LNK302DG</text>
<text x="155.57" y="396.05" font-size="5.61" letter-spacing="0.35" text-anchor="middle">R22</text>
<text x="155.57" y="401.85" font-size="5.61" letter-spacing="0.35" text-anchor="middle">15 kΩ</text>
<polyline points="172.6,331.7 172.6,345.2" fill="none" stroke="#2a2a2a" stroke-width="1.2"/>
<polyline points="168.4,345.2 176.8,345.2" fill="none" stroke="#2a2a2a" stroke-width="1.3"/>
<path d="M168.4,349.9 Q172.6,346.1 176.8,349.9" fill="none" stroke="#2a2a2a" stroke-width="1.3"/>
<polyline points="172.6,348 172.6,448.4" fill="none" stroke="#2a2a2a" stroke-width="1.2"/>
<polyline points="190.5,331.7 190.5,313.9" fill="none" stroke="#2a2a2a" stroke-width="1.2"/>
<polyline points="209.1,331.7 209.1,341" fill="none" stroke="#2a2a2a" stroke-width="1.2"/>
<polyline points="209.1,341 211.7,342.08 206.5,344.25 211.7,346.42 206.5,348.58 211.7,350.75 206.5,352.92 209.1,354" fill="none" stroke="#2a2a2a" stroke-width="1.2"/>
<polyline points="209.1,354 209.1,362 216.1,367.6" fill="none" stroke="#2a2a2a" stroke-width="1.2"/>
<polyline points="216.1,365.8 216.1,375.6" fill="none" stroke="#2a2a2a" stroke-width="1.6"/>
<polyline points="216.1,373.4 209.1,378.6 209.1,448.4" fill="none" stroke="#2a2a2a" stroke-width="1.2"/>
<path d="M210.0,376.2 L209.1,378.6 L211.8,378.4 Z" fill="#2a2a2a" stroke="#2a2a2a" stroke-width="0.6"/>
<polyline points="216.1,370.2 274.8,370.2" fill="none" stroke="#2a2a2a" stroke-width="1.2"/>
<circle cx="243.5" cy="370.2" r="1.75" fill="#2a2a2a"/>
<circle cx="274.8" cy="370.2" r="1.75" fill="#2a2a2a"/>
<polyline points="243.5,370.2 243.5,387.7" fill="none" stroke="#2a2a2a" stroke-width="1.2"/>
<polyline points="239.5,387.7 247.5,387.7" fill="none" stroke="#2a2a2a" stroke-width="1.3"/>
<polyline points="239.5,390.9 247.5,390.9" fill="none" stroke="#2a2a2a" stroke-width="1.3"/>
<text x="221.57" y="347.15" font-size="5.61" letter-spacing="0.35" text-anchor="middle">R23</text>
<text x="221.57" y="353.55" font-size="5.61" letter-spacing="0.35" text-anchor="middle">100 Ω</text>
<text x="195.57" y="366.75" font-size="5.61" letter-spacing="0.35" text-anchor="middle">Q2</text>
<text x="195.57" y="372.85" font-size="5.61" letter-spacing="0.35" text-anchor="middle">MMBT4403</text>
<text x="229.87" y="385.55" font-size="5.61" letter-spacing="0.35" text-anchor="middle">C16</text>
<text x="229.87" y="391.85" font-size="5.61" letter-spacing="0.35" text-anchor="middle">10 nF</text>
<text x="229.87" y="398.05" font-size="5.61" letter-spacing="0.35" text-anchor="middle">50 V</text>
<polyline points="274.8,331.7 274.8,344.6" fill="none" stroke="#2a2a2a" stroke-width="1.2"/>
<polyline points="274.8,344.6 277.4,345.63 272.2,347.7 277.4,349.77 272.2,351.83 277.4,353.9 272.2,355.97 274.8,357" fill="none" stroke="#2a2a2a" stroke-width="1.2"/>
<polyline points="274.8,357 274.8,448.4" fill="none" stroke="#2a2a2a" stroke-width="1.2"/>
<path d="M270.6,408.3 L279.0,408.3 L274.8,402.2 Z" fill="#fff" stroke="#2a2a2a" stroke-width="1.3"/>
<path d="M269.8,403.6 L270.8,402.2 L278.8,402.2 L279.8,400.8" fill="none" stroke="#2a2a2a" stroke-width="1.3"/>
<text x="285.97" y="351.05" font-size="5.61" letter-spacing="0.35" text-anchor="middle">R24</text>
<text x="285.97" y="357.75" font-size="5.61" letter-spacing="0.35" text-anchor="middle">1 kΩ</text>
<text x="300.57" y="402.35" font-size="5.61" letter-spacing="0.35" text-anchor="middle">VR1</text>
<text x="300.57" y="409.05" font-size="5.61" letter-spacing="0.35" text-anchor="middle">ZMM5242B-7</text>
<circle cx="339" cy="438.6" r="2.0" fill="#fff" stroke="#2a2a2a" stroke-width="1"/>
<polyline points="339,440.6 339,448.4" fill="none" stroke="#2a2a2a" stroke-width="1.2"/>
<text x="330.25" y="432.11" font-size="5.23" letter-spacing="0.31" font-weight="bold" text-anchor="middle">V</text>
<text x="341.13" y="434.57" font-size="4.3" letter-spacing="0.25" font-weight="bold" text-anchor="middle">CC RTN</text>
<circle cx="365.6" cy="319.6" r="2.0" fill="#fff" stroke="#2a2a2a" stroke-width="1"/>
<polyline points="365.6,321.6 365.6,331.7" fill="none" stroke="#2a2a2a" stroke-width="1.2"/>
<text x="362.65" y="313.71" font-size="5.23" letter-spacing="0.31" font-weight="bold" text-anchor="middle">V</text>
<text x="367.73" y="315.97" font-size="4.3" letter-spacing="0.25" font-weight="bold" text-anchor="middle">CC</text>
<polyline points="373.8,331.7 374.85,329.5 376.95,333.9 379.05,329.5 381.15,333.9 383.25,329.5 385.35,333.9 386.4,331.7" fill="none" stroke="#2a2a2a" stroke-width="1.2"/>
<text x="380.27" y="342.25" font-size="5.61" letter-spacing="0.35" text-anchor="middle">R7</text>
<text x="380.27" y="349.05" font-size="5.61" letter-spacing="0.35" text-anchor="middle">4.7 Ω</text>
<polyline points="393.4,331.7 393.4,391.5" fill="none" stroke="#2a2a2a" stroke-width="1.2"/>
<polyline points="389.4,391.5 397.4,391.5" fill="none" stroke="#2a2a2a" stroke-width="1.3"/>
<polyline points="389.4,394.8 397.4,394.8" fill="none" stroke="#2a2a2a" stroke-width="1.3"/>
<polyline points="393.4,394.8 393.4,448.4" fill="none" stroke="#2a2a2a" stroke-width="1.2"/>
<text x="380.27" y="388.55" font-size="5.61" letter-spacing="0.35" text-anchor="middle">C12</text>
<text x="380.27" y="394.95" font-size="5.61" letter-spacing="0.35" text-anchor="middle">1 µF</text>
<text x="380.27" y="401.05" font-size="5.61" letter-spacing="0.35" text-anchor="middle">25 V</text>
<rect x="478.4" y="359.9" width="44.4" height="29.5" fill="#fff" stroke="#111" stroke-width="2.2"/>
<polyline points="483.6,359 483.6,371.2 489.3,371.2 489.3,379.5" fill="none" stroke="#2a2a2a" stroke-width="1.0"/>
<polyline points="491.9,371.2 491.9,379.5" fill="none" stroke="#2a2a2a" stroke-width="1.0"/>
<polyline points="491.9,375 495.1,375" fill="none" stroke="#2a2a2a" stroke-width="1.0"/>
<polyline points="489.3,379.5 483.6,379.5 483.6,389.4" fill="none" stroke="#2a2a2a" stroke-width="1.0"/>
<path d="M485.9,378.3 L483.9,379.5 L485.9,380.7 Z" fill="#2a2a2a" stroke="#2a2a2a" stroke-width="0.6"/>
<rect x="495.1" y="369.8" width="22.2" height="11.2" fill="none" stroke="#444" stroke-width="1.0"/>
<polyline points="483.6,385.3 506.6,385.3" fill="none" stroke="#2a2a2a" stroke-width="1.0"/>
<circle cx="483.6" cy="385.3" r="1.6" fill="#2a2a2a"/>
<circle cx="506.6" cy="385.3" r="1.6" fill="#2a2a2a"/>
<polyline points="506.6,381 506.6,448.4" fill="none" stroke="#2a2a2a" stroke-width="1.2"/>
<polyline points="435.3,344.1 499.7,344.1 499.7,369.8" fill="none" stroke="#2a2a2a" stroke-width="1.2"/>
<polyline points="513.6,331.7 513.6,369.8" fill="none" stroke="#2a2a2a" stroke-width="1.2"/>
<polyline points="517.3,375 533.5,375" fill="none" stroke="#2a2a2a" stroke-width="1.2"/>
<text x="480.24" y="357.97" font-size="4.86" letter-spacing="0.29" font-weight="bold" text-anchor="middle">D</text>
<text x="503.54" y="357.97" font-size="4.86" letter-spacing="0.29" font-weight="bold" text-anchor="middle">V</text>
<text x="520.64" y="357.97" font-size="4.86" letter-spacing="0.29" font-weight="bold" text-anchor="middle">VCC</text>
<text x="505.65" y="367.81" font-size="4.95" letter-spacing="0.29" font-weight="bold" text-anchor="middle">CONTROL</text>
<text x="528.14" y="372.97" font-size="4.86" letter-spacing="0.29" font-weight="bold" text-anchor="middle">FB</text>
<text x="480.24" y="395.47" font-size="4.86" letter-spacing="0.29" font-weight="bold" text-anchor="middle">S</text>
<text x="510.84" y="395.47" font-size="4.86" letter-spacing="0.29" font-weight="bold" text-anchor="middle">G</text>
<text x="456.67" y="371.15" font-size="5.89" letter-spacing="0.35" font-weight="bold" text-anchor="middle">HiperPFS</text>
<text x="456.67" y="379.05" font-size="5.61" letter-spacing="0.35" text-anchor="middle">U1</text>
<text x="456.67" y="384.85" font-size="5.61" letter-spacing="0.35" text-anchor="middle">PFS708EG</text>
<circle cx="533.5" cy="375" r="1.75" fill="#2a2a2a"/>
<polyline points="533.5,375 542,375" fill="none" stroke="#2a2a2a" stroke-width="1.2"/>
<polyline points="542,375 543.04,372.8 545.12,377.2 547.21,372.8 549.29,377.2 551.38,372.8 553.46,377.2 554.5,375" fill="none" stroke="#2a2a2a" stroke-width="1.2"/>
<polyline points="554.5,375 571.4,375" fill="none" stroke="#2a2a2a" stroke-width="1.2"/>
<polyline points="571.4,375 572.38,372.8 574.33,377.2 576.27,372.8 578.23,377.2 580.17,372.8 582.12,377.2 583.1,375" fill="none" stroke="#2a2a2a" stroke-width="1.2"/>
<polyline points="583.1,375 624.7,375" fill="none" stroke="#2a2a2a" stroke-width="1.2"/>
<circle cx="562" cy="375" r="1.75" fill="#2a2a2a"/>
<circle cx="592.2" cy="375" r="1.75" fill="#2a2a2a"/>
<circle cx="624.7" cy="375" r="1.75" fill="#2a2a2a"/>
<polyline points="533.5,375 533.5,409.2" fill="none" stroke="#2a2a2a" stroke-width="1.2"/>
<polyline points="529.5,409.2 537.5,409.2" fill="none" stroke="#2a2a2a" stroke-width="1.3"/>
<polyline points="529.5,412.3 537.5,412.3" fill="none" stroke="#2a2a2a" stroke-width="1.3"/>
<polyline points="533.5,412.3 533.5,448.4" fill="none" stroke="#2a2a2a" stroke-width="1.2"/>
<text x="520.67" y="406.55" font-size="5.61" letter-spacing="0.35" text-anchor="middle">C7</text>
<text x="520.67" y="413.05" font-size="5.61" letter-spacing="0.35" text-anchor="middle">10 nF</text>
<text x="520.67" y="419.05" font-size="5.61" letter-spacing="0.35" text-anchor="middle">50 V</text>
<text x="547.67" y="364.25" font-size="5.61" letter-spacing="0.35" text-anchor="middle">R8</text>
<text x="547.67" y="370.35" font-size="5.61" letter-spacing="0.35" text-anchor="middle">10 Ω</text>
<text x="577.27" y="364.25" font-size="5.61" letter-spacing="0.35" text-anchor="middle">R14</text>
<text x="577.27" y="370.35" font-size="5.61" letter-spacing="0.35" text-anchor="middle">2 kΩ</text>
<polyline points="562,375 562,404.8 574.5,404.8" fill="none" stroke="#2a2a2a" stroke-width="1.2"/>
<path d="M574.5,401.8 L580.8,404.8 L574.5,407.8 Z" fill="none" stroke="#2a2a2a" stroke-width="1.25"/>
<polyline points="580.8,401.8 580.8,407.8" fill="none" stroke="#2a2a2a" stroke-width="1.4"/>
<polyline points="580.8,404.8 592.2,404.8" fill="none" stroke="#2a2a2a" stroke-width="1.2"/>
<circle cx="592.2" cy="404.8" r="1.75" fill="#2a2a2a"/>
<polyline points="592.2,375 592.2,384" fill="none" stroke="#2a2a2a" stroke-width="1.2"/>
<polyline points="592.2,384 594.8,385.04 589.6,387.12 594.8,389.21 589.6,391.29 594.8,393.38 589.6,395.46 592.2,396.5" fill="none" stroke="#2a2a2a" stroke-width="1.2"/>
<polyline points="592.2,396.5 592.2,424.8" fill="none" stroke="#2a2a2a" stroke-width="1.2"/>
<polyline points="588.2,424.8 596.2,424.8" fill="none" stroke="#2a2a2a" stroke-width="1.3"/>
<polyline points="588.2,427.8 596.2,427.8" fill="none" stroke="#2a2a2a" stroke-width="1.3"/>
<polyline points="592.2,427.8 592.2,448.4" fill="none" stroke="#2a2a2a" stroke-width="1.2"/>
<text x="575.77" y="386.75" font-size="5.61" letter-spacing="0.35" text-anchor="middle">D6</text>
<text x="575.77" y="392.35" font-size="5.61" letter-spacing="0.35" text-anchor="middle">BAV116</text>
<text x="575.77" y="398.55" font-size="5.61" letter-spacing="0.35" text-anchor="middle">130 V</text>
<text x="603.57" y="389.25" font-size="5.61" letter-spacing="0.35" text-anchor="middle">R15</text>
<text x="603.57" y="395.55" font-size="5.61" letter-spacing="0.35" text-anchor="middle">3 kΩ</text>
<text x="577.27" y="423.15" font-size="5.61" letter-spacing="0.35" text-anchor="middle">C17</text>
<text x="577.27" y="429.35" font-size="5.61" letter-spacing="0.35" text-anchor="middle">4.7 µF</text>
<text x="577.27" y="435.65" font-size="5.61" letter-spacing="0.35" text-anchor="middle">25 V</text>
<path d="M557.6,328.2 L564.8,331.7 L557.6,335.2 Z" fill="none" stroke="#2a2a2a" stroke-width="1.25"/>
<polyline points="564.8,328.2 564.8,335.2" fill="none" stroke="#2a2a2a" stroke-width="1.4"/>
<text x="560.77" y="319.05" font-size="5.61" letter-spacing="0.35" text-anchor="middle">D4</text>
<text x="560.77" y="325.45" font-size="5.61" letter-spacing="0.35" text-anchor="middle">LL4148</text>
<polyline points="632.8,340.6 632.8,349.6" fill="none" stroke="#2a2a2a" stroke-width="1.6"/>
<polyline points="624.7,338.8 632.8,342.8" fill="none" stroke="#2a2a2a" stroke-width="1.2"/>
<polyline points="632.8,345.6 659.4,345.6" fill="none" stroke="#2a2a2a" stroke-width="1.2"/>
<polyline points="632.8,347 624.7,352.5 624.7,401.2 632.8,405.6" fill="none" stroke="#2a2a2a" stroke-width="1.2"/>
<path d="M626.9,350.1 L624.7,352.5 L627.9,352.4 Z" fill="#2a2a2a" stroke="#2a2a2a" stroke-width="0.6"/>
<circle cx="659.4" cy="345.6" r="1.75" fill="#2a2a2a"/>
<text x="610.77" y="340.95" font-size="5.61" letter-spacing="0.35" text-anchor="middle">Q3</text>
<text x="610.77" y="347.25" font-size="5.61" letter-spacing="0.35" text-anchor="middle">MMBT4401</text>
<polyline points="632.8,403.6 632.8,413.2" fill="none" stroke="#2a2a2a" stroke-width="1.6"/>
<polyline points="632.8,408.3 659.4,408.3" fill="none" stroke="#2a2a2a" stroke-width="1.2"/>
<polyline points="632.8,411.4 624.7,416.4 624.7,448.4" fill="none" stroke="#2a2a2a" stroke-width="1.2"/>
<path d="M625.6,413.8 L624.7,416.4 L627.4,416.2 Z" fill="#2a2a2a" stroke="#2a2a2a" stroke-width="0.6"/>
<circle cx="659.4" cy="408.3" r="1.75" fill="#2a2a2a"/>
<text x="611.67" y="404.45" font-size="5.61" letter-spacing="0.35" text-anchor="middle">Q4</text>
<text x="611.67" y="410.65" font-size="5.61" letter-spacing="0.35" text-anchor="middle">MMBT4403</text>
<polyline points="624.7,369.7 637.8,369.7" fill="none" stroke="#2a2a2a" stroke-width="1.2"/>
<polyline points="637.8,369.7 638.73,367.5 640.6,371.9 642.47,367.5 644.33,371.9 646.2,367.5 648.07,371.9 649,369.7" fill="none" stroke="#2a2a2a" stroke-width="1.2"/>
<polyline points="649,369.7 659.4,369.7" fill="none" stroke="#2a2a2a" stroke-width="1.2"/>
<circle cx="624.7" cy="369.7" r="1.75" fill="#2a2a2a"/>
<circle cx="659.4" cy="369.7" r="1.75" fill="#2a2a2a"/>
<text x="642.97" y="358.55" font-size="5.61" letter-spacing="0.35" text-anchor="middle">R16</text>
<text x="642.97" y="364.85" font-size="5.61" letter-spacing="0.35" text-anchor="middle">160 kΩ</text>
<text x="675.07" y="354.75" font-size="5.61" letter-spacing="0.35" text-anchor="middle">R19</text>
<text x="675.07" y="361.05" font-size="5.61" letter-spacing="0.35" text-anchor="middle">2.21 kΩ</text>
<text x="675.07" y="367.35" font-size="5.61" letter-spacing="0.35" text-anchor="middle">1%</text>
<circle cx="659.4" cy="377.7" r="1.75" fill="#2a2a2a"/>
<polyline points="659.4,377.7 674.6,377.7 674.6,409.5" fill="none" stroke="#2a2a2a" stroke-width="1.2"/>
<polyline points="670.6,409.5 678.6,409.5" fill="none" stroke="#2a2a2a" stroke-width="1.3"/>
<polyline points="670.6,412.8 678.6,412.8" fill="none" stroke="#2a2a2a" stroke-width="1.3"/>
<text x="690.57" y="407.35" font-size="5.61" letter-spacing="0.35" text-anchor="middle">C18</text>
<text x="690.57" y="413.55" font-size="5.61" letter-spacing="0.35" text-anchor="middle">470 pF</text>
<text x="690.57" y="419.45" font-size="5.61" letter-spacing="0.35" text-anchor="middle">100 V</text>
<text x="644.17" y="391.75" font-size="5.61" letter-spacing="0.35" text-anchor="middle">R17</text>
<text x="644.17" y="398.15" font-size="5.61" letter-spacing="0.35" text-anchor="middle">2.21 kΩ</text>
<text x="644.67" y="423.75" font-size="5.61" letter-spacing="0.35" text-anchor="middle">R18</text>
<text x="644.67" y="430.45" font-size="5.61" letter-spacing="0.35" text-anchor="middle">57.6 kΩ</text>
<text x="644.67" y="436.75" font-size="5.61" letter-spacing="0.35" text-anchor="middle">1%</text>
<text x="400.4" y="493.6" font-size="16.6" word-spacing="0.15" text-anchor="middle" style="fill:#111;stroke:none"><tspan font-weight="bold">Figure 3</tspan> – Schematic RD-292 Streetlight Power Supply Application Circuit - Input Filter, PFC Power Stage,</text>
<text x="400.6" y="513.4" font-size="16.6" word-spacing="0.15" text-anchor="middle" style="fill:#111;stroke:none">and Bias Supply.</text>
</svg>
</body></html>
